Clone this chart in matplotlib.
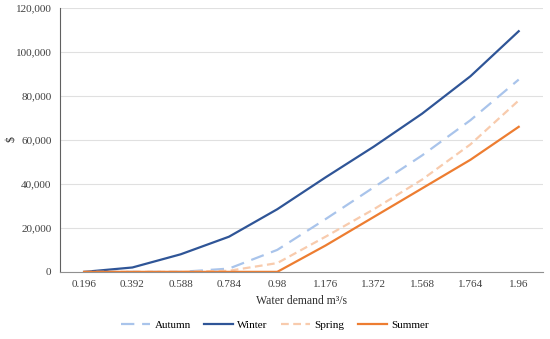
import matplotlib.pyplot as plt
from matplotlib.ticker import FuncFormatter

plt.rcParams['font.family'] = ['Liberation Serif', 'DejaVu Serif']

demand = ['0.196', '0.392', '0.588', '0.784', '0.98', '1.176', '1.372', '1.568', '1.764', '1.96']
autumn = [0, 0, 0, 1500, 10000, 24000, 38500, 53000, 69000, 87500]
winter = [0, 2000, 8000, 16000, 28500, 43000, 57000, 72000, 89000, 109500]
spring = [0, 0, 0, 500, 4000, 16000, 28500, 42000, 58000, 78000]
summer = [0, 0, 0, 0, 0, 12000, 25000, 38000, 51000, 66000]

fig = plt.figure(figsize=(5.5, 3.39), dpi=100)
ax = fig.add_axes([0.109, 0.198, 0.878, 0.778])

x = range(len(demand))
ax.plot(x, autumn, color='#A9C4EB', lw=1.6, dashes=(6, 3.5), label='Autumn')
ax.plot(x, winter, color='#2F5597', lw=1.6, label='Winter')
ax.plot(x, spring, color='#F8CBAD', lw=1.6, dashes=(3.5, 2), label='Spring')
ax.plot(x, summer, color='#ED7D31', lw=1.6, label='Summer')

ax.set_xlim(-0.5, len(demand) - 0.5)
ax.set_ylim(0, 120000)
ax.set_yticks(range(0, 120001, 20000))
ax.yaxis.set_major_formatter(FuncFormatter(lambda v, p: f'{int(v):,}'))
ax.set_xticks(list(x))
ax.set_xticklabels(demand)
ax.tick_params(length=0, labelsize=8, colors='#404040', pad=6)
ax.grid(axis='y', color='#E0E0E0', lw=0.8)
ax.set_axisbelow(True)
for s in ['top', 'right']:
    ax.spines[s].set_visible(False)
ax.spines['left'].set_color('#606060')
ax.spines['bottom'].set_color('#909090')

ax.set_xlabel('Water demand m³/s', fontsize=8.5, color='#303030', labelpad=4)
fig.text(12 / 550, 0.59, '\\$', rotation=90, fontsize=8.5, color='#303030',
         ha='center', va='center')

fig.legend(loc='center', bbox_to_anchor=(0.5, 0.04), ncol=4, frameon=False,
           fontsize=8, handlelength=2.6, handletextpad=0.4, columnspacing=1.2)

fig.savefig('out.png', dpi=100)
